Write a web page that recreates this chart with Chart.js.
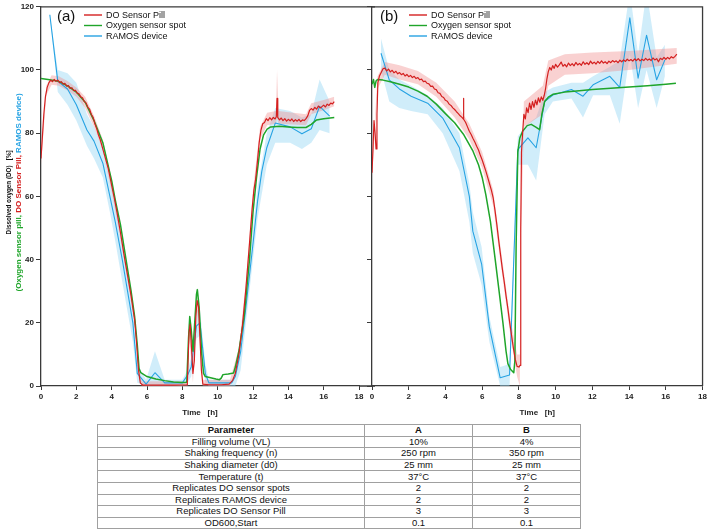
<!DOCTYPE html>
<html><head><meta charset="utf-8">
<script src="https://cdn.jsdelivr.net/npm/chart.js@4.4.0/dist/chart.umd.min.js"></script>
<style>
html,body{margin:0;padding:0;background:#fff;}
#wrap{position:relative;width:709px;height:531px;overflow:hidden;background:#fff;}
#ca{position:absolute;left:0;top:0;}
#cb{position:absolute;left:361px;top:0;}
#tbl{position:absolute;left:97px;top:424px;width:484px;border-collapse:collapse;table-layout:fixed;font-family:"Liberation Sans",Arial,sans-serif;font-size:9.5px;color:#111;}
#tbl td{border:1px solid #a0a0a0;padding:0;height:10.6px;line-height:10px;text-align:center;white-space:nowrap;}
#tbl tr:first-child td{font-weight:bold;}
</style></head>
<body><div id="wrap">
<canvas id="ca" width="375" height="424"></canvas>
<canvas id="cb" width="348" height="424"></canvas>
<table id="tbl"><colgroup><col style="width:267px"><col style="width:108px"><col style="width:108px"></colgroup><tbody></tbody></table>
</div>
<script>
// ---------- DATA ----------
const seriesNames = ['DO Sensor Pill', 'Oxygen sensor spot', 'RAMOS device'];
const xTicks = [0, 2, 4, 6, 8, 10, 12, 14, 16, 18];
const yTicks = [0, 20, 40, 60, 80, 100, 120];

// Panel (a): [time h, DO %]
const pillA = [[0,72],[0.08,79],[0.16,86],[0.25,91.5],[0.35,94.5],[0.45,96],[0.55,96.8],[0.65,96.3],[0.75,97],[0.85,96.4],[0.95,96.8],[1.05,96],[1.15,96.3],[1.25,95.5],[1.35,95.8],[1.45,94.9],[1.55,95.1],[1.65,94.2],[1.75,94.4],[1.85,93.5],[1.95,93.6],[2.05,92.7],[2.15,92.5],[2.25,91.5],[2.35,91.2],[2.45,90],[2.55,89.6],[2.65,88.2],[2.75,87.6],[2.85,85.9],[2.95,85],[3.05,83],[3.15,81.5],[3.25,79.5],[3.35,78],[3.45,76],[3.6,73],[3.8,69],[4.0,63.5],[4.15,59.5],[4.3,55],[4.5,48.5],[4.7,41.5],[4.9,35],[5.1,28.5],[5.3,21],[5.42,13],[5.52,5],[5.62,1],[5.75,0.3],[6.5,0.3],[7.5,0.3],[8.28,0.4],[8.38,17],[8.44,19.5],[8.52,12],[8.6,4],[8.68,8],[8.76,22],[8.84,27],[8.92,25],[9.0,15],[9.08,5],[9.16,0.6],[9.5,0.4],[10.2,0.4],[10.65,0.6],[10.85,1.8],[11.0,4],[11.2,10],[11.4,19],[11.6,31],[11.8,45],[11.95,56],[12.05,62],[12.15,65.5],[12.25,71],[12.35,77],[12.45,81],[12.55,83],[12.65,83.4],[12.75,84.6],[12.85,84],[12.95,84.9],[13.05,84.2],[13.15,85],[13.25,84.5],[13.32,85.2],[13.36,91],[13.4,85],[13.5,84.2],[13.6,84.8],[13.7,84],[13.8,84.6],[13.9,83.8],[14.0,84.4],[14.1,83.9],[14.2,84.5],[14.3,83.7],[14.4,84.3],[14.5,83.8],[14.6,84.4],[14.7,83.7],[14.8,84.2],[14.9,84],[15.0,84.6],[15.1,85.5],[15.2,87.2],[15.3,87.8],[15.4,87.3],[15.5,88.2],[15.6,87.6],[15.7,88.6],[15.8,88],[15.9,88.4],[16.0,88.9],[16.1,88.3],[16.2,89.2],[16.3,88.8],[16.4,89.5],[16.5,89.3],[16.6,90]];
const spotA = [[0,97.3],[0.5,96.9],[1,96.4],[1.5,95],[2,93],[2.5,89.8],[3,84],[3.5,77],[4,65],[4.2,59],[4.5,51],[4.8,40.5],[5.1,30],[5.3,22],[5.45,13],[5.55,5.5],[5.65,4.2],[6,3],[6.5,2.2],[7,1.7],[7.5,1.3],[8.0,1.1],[8.25,1.2],[8.35,15],[8.42,22],[8.5,18],[8.6,11],[8.7,20],[8.8,29],[8.85,30.5],[8.95,25],[9.1,10],[9.2,4],[9.3,3],[9.6,2.6],[9.9,2.2],[10.1,2.0],[10.2,2.5],[10.3,3.6],[10.6,3.8],[10.9,4.1],[11.0,6],[11.2,11],[11.5,22],[11.8,40],[12.0,55],[12.2,66],[12.4,75],[12.6,79.5],[12.8,81.3],[13.0,82],[13.5,82.2],[14,82],[14.5,81.8],[15,81.8],[15.3,82.8],[15.6,84.2],[16,84.6],[16.6,85]];
const ramosA = [[0.5,117.5],[0.95,96.5],[1.5,94],[2,89],[2.6,81],[3,77.5],[3.5,70.5],[3.9,60],[4.2,52],[4.6,40],[5.2,20],[5.45,4],[5.95,0.6],[6.45,4.2],[7,1],[8,1],[8.3,3.5],[8.5,6],[8.8,19],[9,20],[9.3,4],[9.5,1],[10.8,1],[11,3],[11.3,10.8],[11.6,25],[12,45],[12.26,58.6],[12.5,68],[12.78,75.4],[13.26,83.2],[14.1,82],[14.77,79.8],[15.3,81.4],[15.77,88.5],[16.34,85.4]];
// bands: [time, low, high]
const pillBandA = [[0,70,74],[0.3,92,95],[0.6,95.3,98.3],[1,95,98],[1.5,93.5,96.5],[2,91.5,94.5],[2.5,88,91.5],[3,82,85.5],[3.5,74.5,78],[4,61.5,65.5],[4.5,46.5,50.5],[5,30,34],[5.3,19,23],[5.52,3,7],[5.7,0,1.5],[8.3,0,1.5],[8.4,15,22],[8.6,1,7],[8.84,24,30],[9.16,0,2],[10.7,0,2],[11.2,8,12],[11.6,29,33],[12,57,62],[12.4,78,82],[12.8,82.5,86.5],[13.3,83,87],[13.36,85,100],[13.45,83,87],[15,82.5,86],[15.3,86,89.5],[16,87.3,90.5],[16.6,88.5,91.5]];
const ramosBandA = [[0.5,117.5,117.5],[0.95,93,100],[1.5,89,99],[2,84,96],[2.6,76,86],[3,72,82],[3.5,66,75],[3.9,55,65],[4.2,46,58],[4.6,33,46],[5.2,14,25],[5.45,1,7],[5.95,0,2],[6.45,0,11],[7,0,2],[8,0,2],[8.3,1,5],[8.5,3,9],[8.8,15,24],[9,16,24],[9.3,1,7],[9.5,0,2],[10.8,0,2],[11,0,5],[11.3,5,16],[12,40,50],[12.26,53,63],[12.78,70,80],[13.26,77,88],[14.1,77,87],[14.77,75,85],[15.3,77,86],[15.77,81,97],[16.34,80,90]];

// Panel (b)
const pillB = [[0,67.5],[0.06,76],[0.11,84],[0.17,80],[0.22,75],[0.27,86],[0.32,96],[0.4,98],[0.5,99.2],[0.6,100.4],[0.7,100.6],[0.8,99.7],[0.9,100.3],[1.0,99.4],[1.1,99.9],[1.2,99.1],[1.3,99.6],[1.4,98.8],[1.5,99.2],[1.6,98.5],[1.7,98.9],[1.8,98.1],[1.9,98.6],[2.0,97.9],[2.1,98.3],[2.2,97.6],[2.3,98],[2.4,97.3],[2.5,97.6],[2.6,96.9],[2.7,97.1],[2.8,96.3],[2.9,96.5],[3.0,95.8],[3.1,95.6],[3.2,94.8],[3.3,94.9],[3.4,94],[3.5,93.8],[3.6,92.8],[3.7,92.6],[3.8,91.6],[3.9,91.3],[4.0,90.4],[4.1,90.1],[4.2,89.2],[4.3,88.8],[4.4,88],[4.5,87.5],[4.6,86.8],[4.7,86.2],[4.8,85.5],[4.9,85],[4.96,84.6],[4.98,91],[5.0,84.4],[5.1,83.4],[5.2,82],[5.3,80.6],[5.4,79.6],[5.5,78.3],[5.6,77.2],[5.7,75.9],[5.8,74.7],[5.9,73],[6.0,71.5],[6.1,69.8],[6.2,68],[6.3,66],[6.4,64],[6.5,62],[6.6,59.5],[6.7,55.5],[6.8,51],[6.9,46],[7.0,41.5],[7.1,37],[7.2,33],[7.3,28.5],[7.4,24.5],[7.5,20],[7.6,16],[7.7,12],[7.8,8.5],[7.9,6.2],[8.0,6],[8.06,6.5],[8.1,50],[8.14,74],[8.2,80],[8.27,86],[8.35,84.5],[8.42,88],[8.5,86.5],[8.58,89.5],[8.66,87.5],[8.74,90],[8.82,88.2],[8.9,90.5],[8.98,89],[9.06,91.2],[9.14,89.8],[9.22,91.5],[9.3,90.4],[9.38,92],[9.45,94],[9.52,97],[9.6,99.5],[9.68,100.8],[9.76,100],[9.84,101.4],[9.92,100.5],[10.0,101.8],[10.1,100.9],[10.2,101.6],[10.3,102.5],[10.4,101.2],[10.5,101.8],[10.6,101],[10.7,102.2],[10.8,101.4],[10.9,102],[11.0,101.3],[11.1,102.4],[11.2,101.6],[11.3,102.1],[11.4,101.5],[11.5,102.6],[11.6,101.8],[11.7,102.3],[11.8,101.7],[11.9,102.8],[12.0,102],[12.1,102.5],[12.2,101.9],[12.3,102.7],[12.4,102.1],[12.5,102.9],[12.6,102.2],[12.7,102.6],[12.8,102],[12.9,102.8],[13.0,102.3],[13.1,103],[13.2,102.5],[13.3,102.9],[13.4,102.3],[13.5,103.1],[13.6,102.6],[13.7,103.2],[13.8,102.7],[13.9,103.4],[14.0,102.9],[14.1,103.3],[14.2,102.8],[14.3,103.5],[14.4,103],[14.5,103.6],[14.6,102.9],[14.7,103.4],[14.8,103],[14.9,103.7],[15.0,103.1],[15.1,103.5],[15.2,103],[15.3,103.8],[15.4,103.2],[15.5,103.6],[15.6,102.6],[15.7,103.7],[15.8,103.3],[15.9,104],[16.0,103.4],[16.1,104],[16.2,103.5],[16.3,104.2],[16.4,103.8],[16.5,104.3],[16.6,105]];
const spotB = [[0,95.5],[0.08,97],[0.15,94.5],[0.22,96.5],[0.3,97],[0.6,96.8],[1,96.3],[1.5,95.5],[2,94.6],[2.5,93.3],[3,91.7],[3.5,89.2],[4,86.2],[4.5,83.3],[5,79.5],[5.5,74.3],[5.8,70],[6.0,66],[6.2,60.5],[6.45,52],[6.71,40],[6.9,31],[7.13,20],[7.3,11],[7.4,7.1],[7.55,5.2],[7.72,4.2],[7.78,8],[7.85,45],[7.94,74],[8.05,78.5],[8.2,80.6],[8.45,82.4],[8.67,82.8],[8.9,82],[9.13,81.1],[9.25,86],[9.4,90],[9.6,91.4],[9.85,92.3],[10.5,93],[11,93.3],[12,93.8],[13,94.2],[14,94.6],[15,95],[16,95.5],[16.55,95.8]];
const ramosB = [[0.49,105.3],[0.94,96.9],[1.49,94],[2.13,91.7],[3.03,89.5],[3.85,84.8],[4.76,75.4],[5.3,60],[5.49,49],[5.97,38.6],[6.39,18.7],[6.98,2.6],[7.49,3.5],[7.94,74.8],[8.49,78.5],[8.94,75.4],[9.4,90],[9.85,92.1],[10.86,93.8],[11.49,91.7],[12.04,95.3],[12.95,98],[13.49,94.5],[14.04,116.5],[14.49,97.4],[14.95,111],[15.5,96.9],[15.95,103.2]];
const pillBandB = [[0,66,69],[0.3,94,98],[0.7,98.5,102.5],[1.5,97,101.5],[2.5,95.5,99.7],[3.5,91.5,96],[4.5,85,90],[5.3,78,83],[6,69,74],[6.6,57,62],[7,39,44],[7.5,17.5,22.5],[7.9,3,10],[8.05,0,10],[8.1,45,55],[8.27,82,90],[9.3,86,95],[9.6,95,103],[10.5,98.5,105],[12,99,105.5],[14,100,106],[16.6,102,107]];
const ramosBandB = [[0.49,100,110],[0.94,90,100],[1.49,88,97],[2.13,87,95],[3.03,86,92],[3.85,80,88],[4.76,68,80],[5.3,52,64],[5.49,42,55],[5.97,32,44],[6.39,14,22],[6.98,0,6],[7.49,0,7],[7.94,70,79],[8.49,70,83],[8.94,65,85],[9.4,86,93],[9.85,90,94.5],[10.86,91,96],[11.49,85,96],[12.04,92,98],[12.95,92,101],[13.49,83,103],[14.04,105,125],[14.49,88,105],[14.95,100,125],[15.5,88,104],[15.95,98,108]];

// Table
const tableParams = ['Parameter','Filling volume (VL)','Shaking frequency (n)','Shaking diameter (d0)','Temperature (t)','Replicates DO sensor spots','Replicates RAMOS device','Replicates DO Sensor Pill','OD600,Start'];
const tableA = ['A','10%','250 rpm','25 mm','37°C','2','2','3','0.1'];
const tableB = ['B','4%','350 rpm','25 mm','37°C','2','2','3','0.1'];

// ---------- STYLE ----------
const FONT = '"Liberation Sans", Arial, sans-serif';
const C_RED = '#d42020', C_GREEN = '#1fa52a', C_BLUE = '#27a3e3';
const C_RED_BAND = 'rgba(240,140,140,0.40)', C_BLUE_BAND = 'rgba(150,215,245,0.45)';
const AXIS = '#3a3a3a';

Chart.defaults.font.family = FONT;

const xy = arr => arr.map(p => ({x: p[0], y: p[1]}));
const lo = arr => arr.map(p => ({x: p[0], y: p[1]}));
const hi = arr => arr.map(p => ({x: p[0], y: p[2]}));

function datasets(pill, spot, ramos, pillBand, ramosBand) {
  const base = {pointRadius: 0, tension: 0, borderJoinStyle: 'round'};
  return [
    {...base, label: 'rb_hi', data: hi(ramosBand), fill: '+1', backgroundColor: C_BLUE_BAND, borderWidth: 0, order: 10},
    {...base, label: 'rb_lo', data: lo(ramosBand), fill: false, borderWidth: 0, order: 10},
    {...base, label: 'pb_hi', data: hi(pillBand), fill: '+1', backgroundColor: C_RED_BAND, borderWidth: 0, order: 9},
    {...base, label: 'pb_lo', data: lo(pillBand), fill: false, borderWidth: 0, order: 9},
    {...base, label: seriesNames[2], data: xy(ramos), borderColor: C_BLUE, borderWidth: 1.1, fill: false, order: 3},
    {...base, label: seriesNames[1], data: xy(spot), borderColor: C_GREEN, borderWidth: 1.5, fill: false, order: 2},
    {...base, label: seriesNames[0], data: xy(pill), borderColor: C_RED, borderWidth: 1.2, fill: false, order: 1},
  ];
}

const framePlugin = {
  id: 'frame',
  afterDraw(chart, args, o) {
    const {ctx, chartArea: a} = chart;
    ctx.save();
    ctx.strokeStyle = AXIS; ctx.lineWidth = 1.3;
    ctx.beginPath();
    if (o.panel === 'a') {
      ctx.moveTo(a.left, a.top); ctx.lineTo(chart.width, a.top);
      ctx.moveTo(a.right, a.bottom); ctx.lineTo(chart.width, a.bottom);
    } else {
      ctx.moveTo(a.left, a.top); ctx.lineTo(a.right, a.top); ctx.lineTo(a.right, a.bottom);
    }
    ctx.stroke();
    // panel letter
    ctx.fillStyle = '#111';
    ctx.font = '15px ' + FONT;
    ctx.textBaseline = 'middle'; ctx.textAlign = 'left';
    ctx.fillText(o.letter, a.left + o.letterX, 17);
    // legend
    const cols = [C_RED, C_GREEN, C_BLUE];
    const ys = [15, 25.5, 36];
    ctx.font = '9px ' + FONT;
    for (let i = 0; i < 3; i++) {
      ctx.strokeStyle = cols[i]; ctx.lineWidth = 1.4;
      ctx.beginPath();
      ctx.moveTo(a.left + o.legX, ys[i]); ctx.lineTo(a.left + o.legX + 18, ys[i]);
      ctx.stroke();
      ctx.fillStyle = '#111';
      ctx.fillText(seriesNames[i], a.left + o.legX + 22, ys[i] + 0.5);
    }
    // y title (panel a only)
    if (o.panel === 'a') {
      const mid = (a.top + a.bottom) / 2 - 4;
      ctx.font = 'bold 8px ' + FONT;
      ctx.textBaseline = 'middle';
      // line 1
      ctx.save();
      ctx.translate(8.5, mid);
      ctx.rotate(-Math.PI / 2);
      const t1 = 'Dissolved oxygen (DO)   [%]';
      const w1 = ctx.measureText(t1).width;
      ctx.scale(84 / w1, 1);
      ctx.fillStyle = '#111'; ctx.textAlign = 'center';
      ctx.fillText(t1, 0, 0);
      ctx.restore();
      // line 2 (multi-coloured)
      const segs = [['(Oxygen sensor pill, ', C_GREEN], ['DO Sensor Pill, ', C_RED], ['RAMOS device)', C_BLUE]];
      ctx.save();
      ctx.translate(18.5, mid);
      ctx.rotate(-Math.PI / 2);
      let total = 0; segs.forEach(s => total += ctx.measureText(s[0]).width);
      ctx.scale(198 / total, 1);
      ctx.textAlign = 'left';
      let x = -total / 2;
      segs.forEach(s => { ctx.fillStyle = s[1]; ctx.fillText(s[0], x, 0); x += ctx.measureText(s[0]).width; });
      ctx.restore();
    }
    ctx.restore();
  }
};

function makeOptions(panel) {
  const isA = panel === 'a';
  return {
    responsive: false, animation: false, events: [],
    layout: {autoPadding: false, padding: {left: 0, top: 5, right: isA ? 16 : 6, bottom: 0}},
    plugins: {
      legend: {display: false}, tooltip: {enabled: false},
      frame: isA ? {panel: 'a', letter: '(a)', letterX: 16, legX: 43}
                 : {panel: 'b', letter: '(b)', letterX: 8, legX: 37}
    },
    scales: {
      x: {
        type: 'linear', min: 0, max: 18,
        afterBuildTicks: s => { s.ticks = xTicks.map(v => ({value: v})); },
        afterFit: s => { s.height = 38; },
        ticks: {font: {size: 8, weight: 'bold'}, color: '#222', padding: 2, maxRotation: 0, autoSkip: false},
        grid: {drawOnChartArea: false, drawTicks: true, tickLength: 4, color: AXIS, lineWidth: 1},
        border: {display: true, color: AXIS, width: 1.3},
        title: {display: true, text: 'Time   [h]', font: {size: 8, weight: 'bold'}, color: '#222', padding: {top: 0, bottom: 6}}
      },
      y: {
        type: 'linear', min: 0, max: 120,
        afterBuildTicks: s => { s.ticks = yTicks.map(v => ({value: v})); },
        afterFit: s => { s.width = isA ? 41 : 11; },
        ticks: {font: {size: 8, weight: 'bold'}, color: '#222', padding: 2, callback: v => isA ? String(v) : ''},
        grid: {drawOnChartArea: false, drawTicks: true, tickLength: 5, color: AXIS, lineWidth: 1},
        border: {display: true, color: AXIS, width: 1.3}
      }
    }
  };
}

new Chart(document.getElementById('ca'), {
  type: 'line',
  data: {datasets: datasets(pillA, spotA, ramosA, pillBandA, ramosBandA)},
  options: makeOptions('a'),
  plugins: [framePlugin]
});
new Chart(document.getElementById('cb'), {
  type: 'line',
  data: {datasets: datasets(pillB, spotB, ramosB, pillBandB, ramosBandB)},
  options: makeOptions('b'),
  plugins: [framePlugin]
});

// table
const tb = document.querySelector('#tbl tbody');
tableParams.forEach((p, i) => {
  const tr = document.createElement('tr');
  [p, tableA[i], tableB[i]].forEach(t => { const td = document.createElement('td'); td.textContent = t; tr.appendChild(td); });
  tb.appendChild(tr);
});
</script>
</body></html>
